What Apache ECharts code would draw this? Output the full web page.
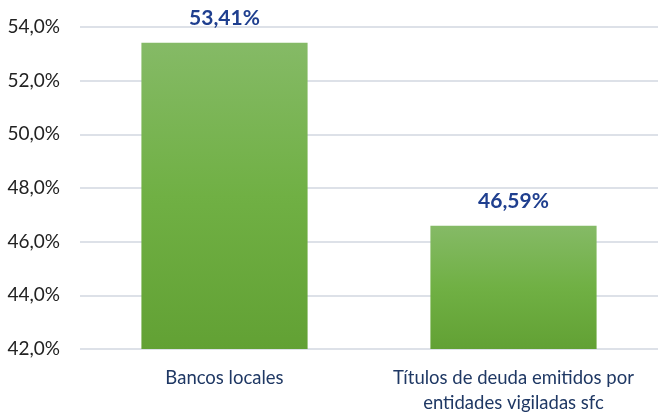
<!DOCTYPE html>
<html>
<head>
<meta charset="utf-8">
<script src="https://cdn.jsdelivr.net/npm/echarts@6/dist/echarts.min.js"></script>
<style>
html,body{margin:0;padding:0;background:#fff;}
#chart{width:658px;height:417px;}
</style>
</head>
<body>
<div id="chart"></div>
<script>
var categories = ['Bancos locales', 'Títulos de deuda emitidos por\nentidades vigiladas sfc'];
var values = [53.41, 46.59];
var yMin = 42, yMax = 54, yStep = 2;

var myChart = echarts.init(document.getElementById('chart'));
var fontFam = 'Lato, "Open Sans", sans-serif';

var option = {
	animation: false,
	grid: {
		left: 80,
		right: -3,
		top: 27,
		bottom: 68
	},
	xAxis: {
		type: 'category',
		data: categories,
		axisLine: {show: false},
		axisTick: {show: false},
		axisLabel: {
			interval: 0,
			color: '#1F3864',
			fontFamily: fontFam,
			fontSize: 18.5,
			lineHeight: 25,
			margin: 17
		}
	},
	yAxis: {
		type: 'value',
		min: yMin,
		max: yMax,
		interval: yStep,
		axisLine: {show: false},
		axisTick: {show: false},
		splitLine: {lineStyle: {color: '#DDE1E8', width: 2}},
		axisLabel: {
			color: '#222',
			fontFamily: fontFam,
			fontSize: 19,
			margin: 20,
			formatter: function(v){
				return v.toFixed(1).replace('.', ',') + '%';
			}
		}
	},
	series: [{
		type: 'bar',
		data: values,
		barWidth: '57.5%',
		itemStyle: {
			color: new echarts.graphic.LinearGradient(0, 0, 0, 1, [
				{offset: 0, color: '#85BA66'},
				{offset: 0.5, color: '#70B044'},
				{offset: 1, color: '#62A134'}
			])
		},
		label: {
			show: true,
			position: 'top',
			distance: 14,
			color: '#1F3F8F',
			fontFamily: fontFam,
			fontWeight: 'bold',
			fontSize: 21,
			formatter: function(p){
				return p.value.toFixed(2).replace('.', ',') + '%';
			}
		}
	}]
};
myChart.setOption(option);
</script>
</body>
</html>
